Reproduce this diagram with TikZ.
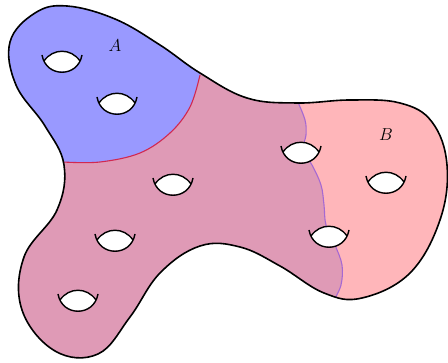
\documentclass[tikz,border=0pt]{standalone}
\usetikzlibrary{calc}
\definecolor{regA}{RGB}{153,153,255}
\definecolor{regB}{RGB}{255,182,186}
\definecolor{regM}{RGB}{223,154,182}
\definecolor{lineA}{RGB}{210,40,80}
\definecolor{lineB}{RGB}{165,105,210}
\tikzset{
  hole/.pic={
    \fill[white] (-18,0) .. controls (-9,-13) and (9,-13) .. (18,0)
                 .. controls (14,14) and (-14,14) .. (-18,0) -- cycle;
    \draw[line width=1.4pt] (-20,-6) .. controls (-16,17) and (16,17) .. (20,-6);
    \draw[line width=1.4pt] (-18,0) .. controls (-9,-13) and (9,-13) .. (18,0);
  },
  outlinestyle/.style={line width=1.6pt, line join=round},
  bndA/.style={draw=lineA, line width=1.1pt},
  bndB/.style={draw=lineB, line width=1.1pt},
  lbl/.style={font=\fontsize{18}{21}\selectfont}
}
\def\outlinepath{plot[smooth cycle, tension=0.65] coordinates {(67,6) (115,19) (160,45) (200,73) (247,98) (297,103) (350,100) (400,103) (432,122) (447,165) (440,220) (410,273) (362,298) (324,293) (280,266) (240,247) (200,246) (160,273) (130,317) (98,354) (55,351) (22,310) (24,257) (57,210) (64,165) (45,126) (16,85) (10,42) (35,13)}}
\def\bApath{plot[smooth, tension=0.6] coordinates {(63,162) (100,162) (140,153) (170,133) (190,107) (200,75)}}
\def\bBpath{plot[smooth, tension=0.6] coordinates {(297,100) (305,120) (306,135) (303,150) (312,165) (321,185) (324,205) (326,225) (335,245) (342,265) (341,285) (334,300)}}
\begin{document}
\begin{tikzpicture}[x=1pt,y=-1pt]
\useasboundingbox (0,0) rectangle (448,363);
\begin{scope}
  \clip \outlinepath;
  \fill[regM] \outlinepath;
  \fill[regA] \bApath -- (210,40) -- (210,-5) -- (-5,-5) -- (-5,163) -- cycle;
  \fill[regB] \bBpath -- (330,320) -- (460,320) -- (460,80) -- (295,80) -- cycle;
  \draw[bndA] \bApath;
  \draw[bndB] \bBpath;
\end{scope}
\draw[outlinestyle] \outlinepath;
\node[lbl] (labA) at (115,46) {$A$};
\node[lbl] (labB) at (386,135) {$B$};
\pic at (62,61) {hole};
\pic at (117,103) {hole};
\pic at (173,184) {hole};
\pic at (115,240) {hole};
\pic at (78,300) {hole};
\pic at (301,152) {hole};
\pic at (386,182) {hole};
\pic at (329,236) {hole};
\end{tikzpicture}
\end{document}
